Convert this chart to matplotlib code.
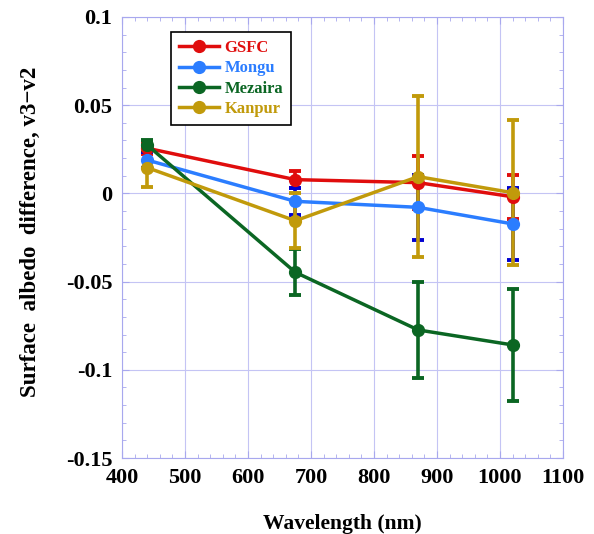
import numpy as np
import matplotlib.pyplot as plt
from matplotlib.ticker import MultipleLocator
from matplotlib.lines import Line2D

# wavelengths (nm)
wavelength = [440, 675, 870, 1020]

# surface albedo difference v3-v2 and error bars per site
gsfc = [0.0256, 0.0078, 0.0061, -0.0019]
gsfc_err = [0.003, 0.005, 0.015, 0.0125]

mongu = [0.0189, -0.0045, -0.0079, -0.0173]
mongu_err = [0.0045, 0.0075, 0.0185, 0.0205]

mezaira = [0.0274, -0.0447, -0.0774, -0.0859]
mezaira_err = [0.003, 0.013, 0.0273, 0.0317]

kanpur = [0.0146, -0.0155, 0.0095, 0.0004]
kanpur_err = [0.0107, 0.0156, 0.0455, 0.041]

series = [
    ("GSFC", gsfc, gsfc_err, "#e00d0d", "#e00d0d"),
    ("Mongu", mongu, mongu_err, "#2b7dff", "#0000d0"),
    ("Mezaira", mezaira, mezaira_err, "#0b6623", "#0b6623"),
    ("Kanpur", kanpur, kanpur_err, "#c19a0b", "#c19a0b"),
]

plt.rcParams['font.family'] = ['Liberation Serif', 'DejaVu Serif']
plt.rcParams['font.weight'] = 'bold'

fig = plt.figure(figsize=(5.94, 5.34), dpi=100)
ax = fig.add_axes([0.2054, 0.1423, 0.7424, 0.8259])

grid_col = "#c4c4f4"
handles = []
for name, vals, errs, col, ecol in series:
    ax.errorbar(wavelength, vals, yerr=errs, color=col, ecolor=ecol,
                marker='o', markersize=8.5, linewidth=2.5, elinewidth=2.6,
                capsize=4, capthick=2.8)
    handles.append(Line2D([], [], color=col, marker='o', markersize=8.5,
                          linewidth=2.5, label=name))

ax.set_xlim(400, 1100)
ax.set_ylim(-0.15, 0.1)
ax.xaxis.set_major_locator(MultipleLocator(100))
ax.xaxis.set_minor_locator(MultipleLocator(20))
ax.yaxis.set_minor_locator(MultipleLocator(0.01))
ax.set_yticks([-0.15, -0.1, -0.05, 0, 0.05, 0.1])
ax.set_yticklabels(['-0.15', '-0.1', '-0.05', '0', '0.05', '0.1'])

ax.grid(True, which='major', color=grid_col, linewidth=0.8)
ax.set_axisbelow(True)
for s in ax.spines.values():
    s.set_color("#a8a8ee")
ax.tick_params(which='both', direction='in', top=True, right=True,
               color="#a8a8ee", labelsize=16, pad=7)
ax.tick_params(which='major', length=5)
ax.tick_params(which='minor', length=3)

ax.set_xlabel("Wavelength (nm)", fontsize=15.5, fontweight='bold', labelpad=19)
ax.set_ylabel("Surface  albedo  difference, v3\u2212v2", fontsize=16.5,
              fontweight='bold')
ax.yaxis.set_label_coords(-0.184, 0.512)

leg = ax.legend(handles=handles, loc='upper left', bbox_to_anchor=(0.111, 0.966),
                borderaxespad=0, fontsize=12, handlelength=2.4, fancybox=False,
                framealpha=1, edgecolor='black', borderpad=0.5,
                labelspacing=0.25, handletextpad=0.3)
leg.get_frame().set_linewidth(1.2)
for txt, (_, _, _, col, _) in zip(leg.get_texts(), series):
    txt.set_color(col)
    txt.set_fontweight('bold')

fig.savefig("out.png", dpi=100)
